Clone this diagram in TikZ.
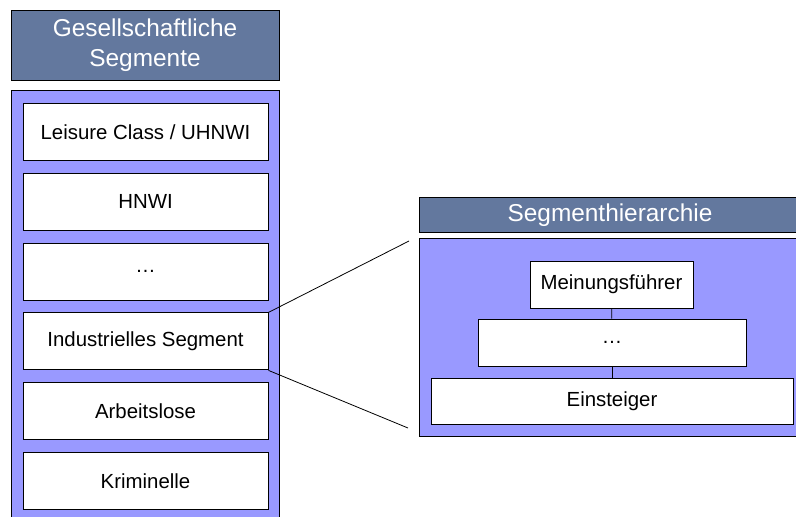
\documentclass[tikz,border=0pt]{standalone}
\usepackage{fontspec}
\setmainfont{Liberation Sans}
\definecolor{titleblue}{RGB}{99,120,158}
\definecolor{panelblue}{RGB}{153,153,255}
\tikzset{
  titlebox/.style={draw=black,line width=1pt,fill=titleblue,text=white,
    inner sep=0pt,align=center,font=\fontsize{24.4}{30}\selectfont},
  panelbox/.style={draw=black,line width=1pt,fill=panelblue,inner sep=0pt},
  segbox/.style={draw=black,line width=1pt,fill=white,inner sep=0pt,
    font=\fontsize{20.4}{24}\selectfont},
  link/.style={line width=0.8pt}
}
\begin{document}
\begin{tikzpicture}[x=1pt,y=-1pt]
  \useasboundingbox (0,0) rectangle (796,517);
  \clip (0,0) rectangle (796,517);

  % Drawing left title and panel
  \node [titlebox,minimum width=268pt,minimum height=70pt] (gstitle) at (145,45)
    {Gesellschaftliche\\Segmente};
  \node [panelbox,minimum width=268pt,minimum height=450pt,anchor=north] (gspanel) at (145,90) {};

  % Drawing segment boxes
  \foreach \name/\txt [count=\i from 0] in {leisure/{Leisure Class / UHNWI},hnwi/HNWI,
      dotsl/…,ind/Industrielles Segment,arbeit/Arbeitslose,krim/Kriminelle}
    \node [segbox,minimum width=245pt,minimum height=57pt] (\name) at (145.5,132+69.8*\i) {\txt};

  % Drawing right title and panel
  \node [titlebox,minimum width=381pt,minimum height=35pt,anchor=north west] (shtitle) at (419,197)
    {Segmenthierarchie};
  \node [panelbox,minimum width=381pt,minimum height=198pt,anchor=north west] (shpanel) at (419,238) {};

  % Drawing hierarchy boxes
  \node [segbox,minimum width=163pt,minimum height=47pt] (meinung) at (611.5,284.5) {Meinungsführer};
  \node [segbox,minimum width=268pt,minimum height=47pt] (dotsr) at (612,342.5) {…};
  \node [segbox,minimum width=362pt,minimum height=46pt] (einst) at (612,401) {Einsteiger};
  \draw [link] (meinung) -- (dotsr);
  \draw [link] (dotsr) -- (einst);

  % Drawing zoom lines
  \coordinate (zoomtop) at (409,241);
  \coordinate (zoombot) at (408,428);
  \draw [link] (ind.north east) -- (zoomtop);
  \draw [link] (ind.south east) -- (zoombot);
\end{tikzpicture}
\end{document}
